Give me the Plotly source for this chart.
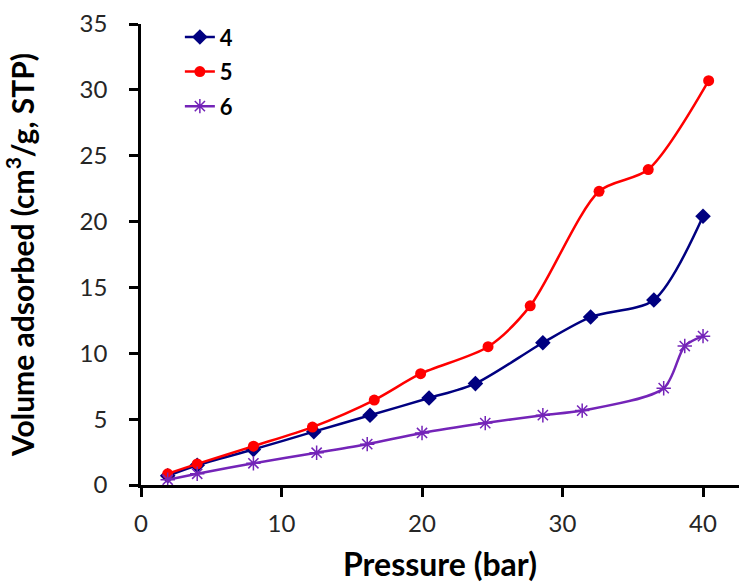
import plotly.graph_objects as go

# Series data (Pressure in bar, Volume adsorbed in cm3/g STP)
x4 = [1.9, 4.0, 8.0, 12.3, 16.3, 20.5, 23.8, 28.6, 32.0, 36.5, 40.0]
y4 = [0.7, 1.5, 2.7, 4.05, 5.3, 6.6, 7.7, 10.8, 12.75, 14.05, 20.4]

x5 = [1.9, 4.0, 8.0, 12.2, 16.6, 19.9, 24.7, 27.7, 32.6, 36.1, 40.4]
y5 = [0.85, 1.6, 2.95, 4.4, 6.45, 8.45, 10.5, 13.6, 22.3, 23.95, 30.7]

x6 = [1.9, 4.0, 8.0, 12.5, 16.1, 20.0, 24.5, 28.6, 31.4, 37.2, 38.7, 40.0]
y6 = [0.4, 0.85, 1.65, 2.45, 3.1, 3.95, 4.7, 5.3, 5.65, 7.35, 10.55, 11.3]

names = ["4", "5", "6"]
x_ticks = [0, 10, 20, 30, 40]
y_ticks = [0, 5, 10, 15, 20, 25, 30, 35]

NAVY = "#000080"
RED = "#FF0000"
PURPLE = "#7424B8"

fig = go.Figure()
fig.add_trace(go.Scatter(
    x=x4, y=y4, name=names[0], mode="lines+markers", legendgroup="a",
    line=dict(color=NAVY, width=2.5, shape="spline", smoothing=0.8),
    marker=dict(symbol="diamond", size=12, color=NAVY)))
fig.add_trace(go.Scatter(
    x=x5, y=y5, name=names[1], mode="lines+markers", legendgroup="b",
    line=dict(color=RED, width=2.5, shape="spline", smoothing=0.8),
    marker=dict(symbol="circle", size=11, color=RED)))
fig.add_trace(go.Scatter(
    x=x6, y=y6, name=names[2], mode="lines+markers", legendgroup="c",
    line=dict(color=PURPLE, width=2.5, shape="spline", smoothing=0.8),
    marker=dict(symbol="asterisk-open", size=12, color=PURPLE,
                line=dict(color=PURPLE, width=1.5))))

axis_common = dict(
    showline=True, linecolor="black", linewidth=2.5,
    ticks="outside", ticklen=9, tickwidth=2.5, tickcolor="black",
    showgrid=False, zeroline=False,
    tickfont=dict(family="Lato, Carlito, sans-serif", size=24, color="#262626"),
)

fig.update_layout(
    width=739, height=583,
    margin=dict(l=141, r=0, t=24, b=98),
    plot_bgcolor="white", paper_bgcolor="white",
    font=dict(family="Lato, Carlito, sans-serif", color="black"),
    xaxis=dict(
        range=[0, 42.56], tickvals=x_ticks,
        ticklabelstandoff=6,
        title=dict(text="<b>Pressure (bar)</b>",
                   font=dict(family="Lato, sans-serif", size=32, color="black"),
                   standoff=21),
        **axis_common),
    yaxis=dict(
        range=[0, 35], tickvals=y_ticks,
        ticklabelstandoff=17,
        title=dict(text="<b>Volume adsorbed (cm<sup>3</sup>/g, STP)</b>",
                   font=dict(family="Lato, sans-serif", size=30, color="black"),
                   standoff=38),
        **axis_common),
    legend=dict(
        x=0.065, y=1.017, xanchor="left", yanchor="top",
        bgcolor="rgba(0,0,0,0)", borderwidth=0,
        font=dict(family="Lato, sans-serif", size=22, color="black", weight="bold"),
        tracegroupgap=3, traceorder="grouped",
    ),
    showlegend=True,
)

fig.write_html("out.html")
